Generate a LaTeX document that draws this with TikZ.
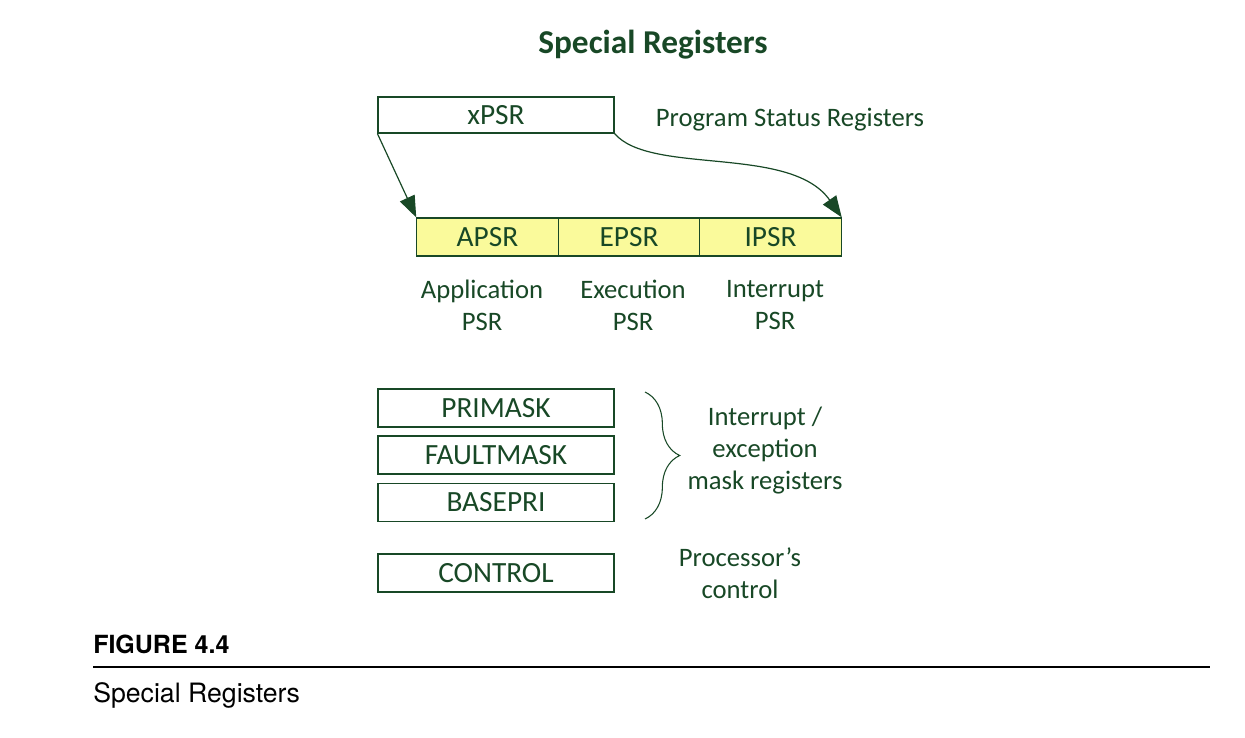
\documentclass[tikz,border=0pt]{standalone}
\usepackage{fontspec}
\setmainfont{Carlito}
\newfontfamily\capfont{TeX Gyre Heros}
\usepackage{tikz}
\usetikzlibrary{arrows.meta}
\usetikzlibrary{decorations.pathreplacing}

\definecolor{regGreen}{RGB}{24,72,38}
\definecolor{psrYellow}{RGB}{250,250,155}

\tikzset{
  regbox/.style={draw=regGreen, line width=0.9pt, minimum width=177pt, minimum height=28.5pt, inner sep=0pt, text=regGreen, font=\fontsize{22}{26}\selectfont},
  psrbox/.style={regbox, fill=psrYellow, minimum width=106pt},
  lbl/.style={text=regGreen, align=center, font=\fontsize{20}{24}\selectfont},
  psrarrow/.style={draw=regGreen, line width=0.9pt, -{Triangle[length=16pt,width=12pt]}},
}

\begin{document}
\begin{tikzpicture}[x=0.75pt, y=-0.75pt]
            \useasboundingbox (0,0) rectangle (1245,738);

            % Nodes
            \node[lbl, font=\fontsize{25}{30}\selectfont\bfseries] (title) at (653,45) {Special Registers};
            \node[regbox, minimum height=27pt] (xpsr) at (496,115) {xPSR};
            \node[lbl] (pstat) at (790,120) {Program Status Registers};

            \node[psrbox] (apsr) at (487.5,237) {APSR};
            \node[psrbox] (epsr) at (629,237) {EPSR};
            \node[psrbox] (ipsr) at (770.5,237) {IPSR};
            \node[lbl] (aname) at (482,305) {Application\\PSR};
            \node[lbl] (ename) at (633,305) {Execution\\PSR};
            \node[lbl] (iname) at (775,305) {Interrupt\\PSR};

            \node[regbox] (primask) at (496,408) {PRIMASK};
            \node[regbox] (faultmask) at (496,455) {FAULTMASK};
            \node[regbox] (basepri) at (496,502.5) {BASEPRI};
            \node[lbl] (masks) at (765,451) {Interrupt /\\exception\\mask registers};

            \node[regbox] (control) at (496,573) {CONTROL};
            \node[lbl] (ctrl) at (740,573) {Processor’s\\control};

            % Lines
            \draw[psrarrow] (xpsr.south west) -- (apsr.north west);
            \draw[psrarrow] (xpsr.south east) .. controls +(36,42) and +(-51,-73) .. (ipsr.north east);
            \draw[regGreen, line width=0.8pt, decorate, decoration={brace, amplitude=26pt}] (645,392) -- (645,519);

            % Caption
            \node[anchor=base west, inner sep=0pt, font=\capfont\fontsize{18.75}{22}\selectfont\bfseries] (fig) at (93,653) {FIGURE 4.4};
            \draw[line width=1.5pt] (93,667) -- (1210,667);
            \node[anchor=base west, inner sep=0pt, font=\capfont\fontsize{20}{24}\selectfont] (cap) at (93,702) {Special Registers};

        \end{tikzpicture}
\end{document}
